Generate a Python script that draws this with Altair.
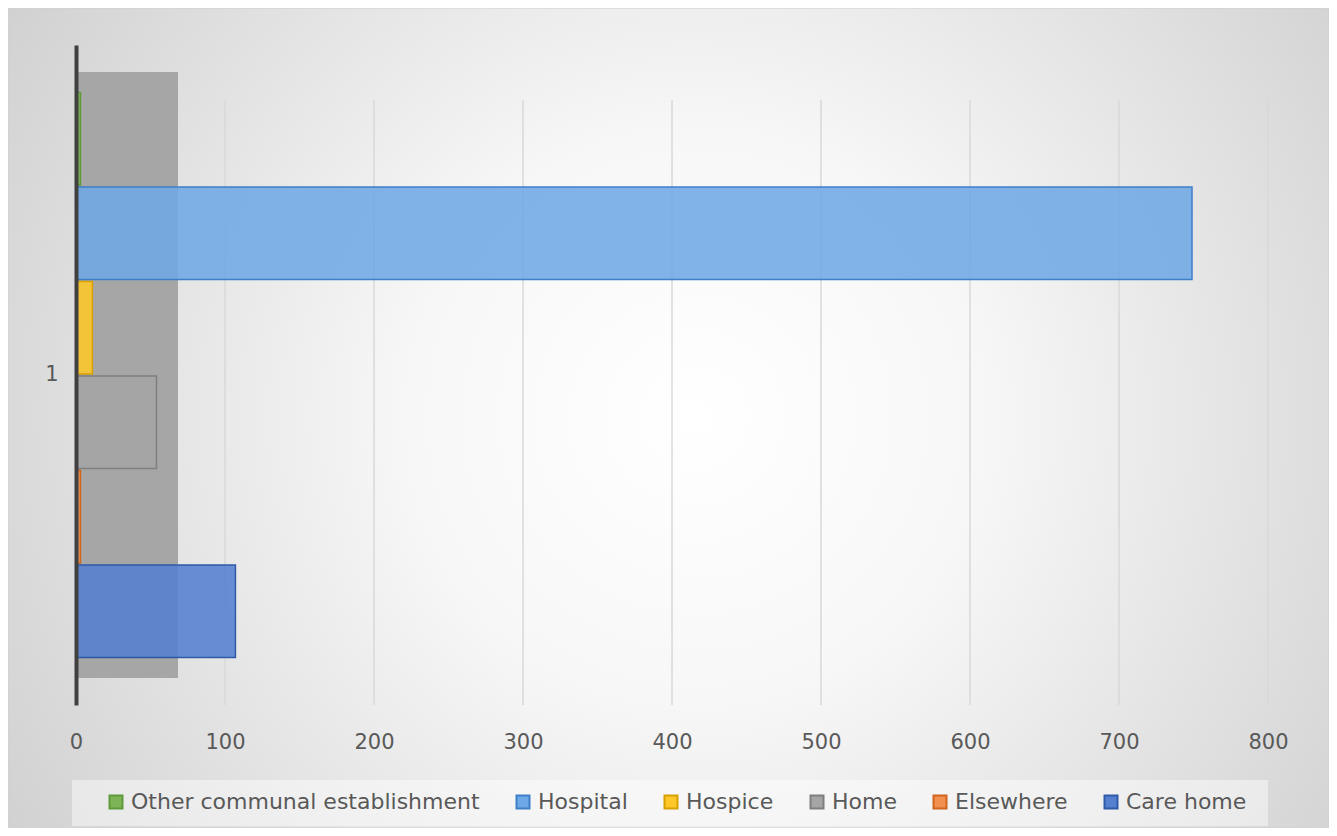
import altair as alt
import pandas as pd

# ---- data ----
categories = ["1"]
series = ["Other communal establishment", "Hospital", "Hospice", "Home", "Elsewhere", "Care home"]
values = [3, 749, 11, 54, 3, 107]
fills = ["#7cb457", "#6fa8e6", "#ffc829", "#a5a5a5", "#f29050", "#5580d0"]
strokes = ["#5e9a3a", "#3e7fc8", "#d8a000", "#7f7f7f", "#d2651e", "#2f5aa8"]
tick_values = [0, 100, 200, 300, 400, 500, 600, 700, 800]

df = pd.DataFrame({"cat": categories * len(series), "series": series, "value": values})
grid_df = pd.DataFrame({"tick": tick_values[1:]})

W, H = 1192, 660
FONT = "DejaVu Sans"
TXT = "#595959"

x_axis = alt.Axis(title=None, values=tick_values, grid=False, domain=False, ticks=False,
                  labelFlush=False, labelPadding=26, labelFontSize=21, labelColor=TXT,
                  labelFont=FONT, zindex=1)
x_scale = alt.Scale(domain=[0, 800], nice=False, zero=True)

one = alt.Data(values=[{"k": 1}])

background = alt.Chart(one).mark_rect(
    fill=alt.RadialGradient(
        gradient="radial",
        stops=[alt.GradientStop(offset=0, color="#ffffff"),
               alt.GradientStop(offset=0.3, color="#f7f7f7"),
               alt.GradientStop(offset=1, color="#c6c6c6")],
        x1=0.52, y1=0.5, r1=0, x2=0.52, y2=0.5, r2=0.72),
    stroke="#d0d0d0", strokeWidth=1,
).encode(x=alt.value(-68), x2=alt.value(W + 61), y=alt.value(-37), y2=alt.value(H + 123))

legend_box = alt.Chart(one).mark_rect(fill="#ffffff", fillOpacity=0.45).encode(
    x=alt.value(-4), x2=alt.value(W), y=alt.value(735), y2=alt.value(781))

wall = alt.Chart(one).mark_rect(fill="#a6a6a6").encode(
    x=alt.value(0), x2=alt.value(102), y=alt.value(27), y2=alt.value(633))

grid = alt.Chart(grid_df).mark_rule(color="#d9d9d9", strokeWidth=1.5).encode(
    x=alt.X("tick:Q", scale=x_scale, axis=x_axis),
    y=alt.value(55), y2=alt.value(H))

bars = alt.Chart(df).mark_bar(fillOpacity=0.88, strokeWidth=1.5).encode(
    y=alt.Y("cat:N", scale=alt.Scale(paddingOuter=0.084, paddingInner=0),
            axis=alt.Axis(title=None, ticks=False, domain=True, domainColor="#404040",
                          domainWidth=4, labelPadding=18, labelFontSize=21,
                          labelColor=TXT, labelFont=FONT, zindex=1)),
    yOffset=alt.YOffset("series:N", sort=series, scale=alt.Scale(paddingInner=0.02)),
    x=alt.X("value:Q", scale=x_scale, axis=x_axis),
    color=alt.Color("series:N", sort=series,
                    scale=alt.Scale(domain=series, range=fills),
                    legend=alt.Legend(orient="none", legendX=29, legendY=746,
                                      direction="horizontal", columns=6, title=None,
                                      symbolType="square", symbolSize=169,
                                      symbolStrokeWidth=2, symbolOpacity=1,
                                      labelFontSize=22, labelFont=FONT, labelColor=TXT,
                                      labelLimit=0, labelOffset=4, columnPadding=32,
                                      padding=0)),
    stroke=alt.Stroke("series:N", sort=series,
                      scale=alt.Scale(domain=series, range=strokes)),
)

chart = alt.layer(background, legend_box, wall, grid, bars).properties(
    width=W, height=H,
    autosize=alt.AutoSizeParams(type="none"),
    padding={"left": 68, "top": 37, "right": 61, "bottom": 123},
).configure_view(stroke=None).configure(font=FONT)

chart.save("out.html", embed_options={"renderer": "svg", "actions": False})
